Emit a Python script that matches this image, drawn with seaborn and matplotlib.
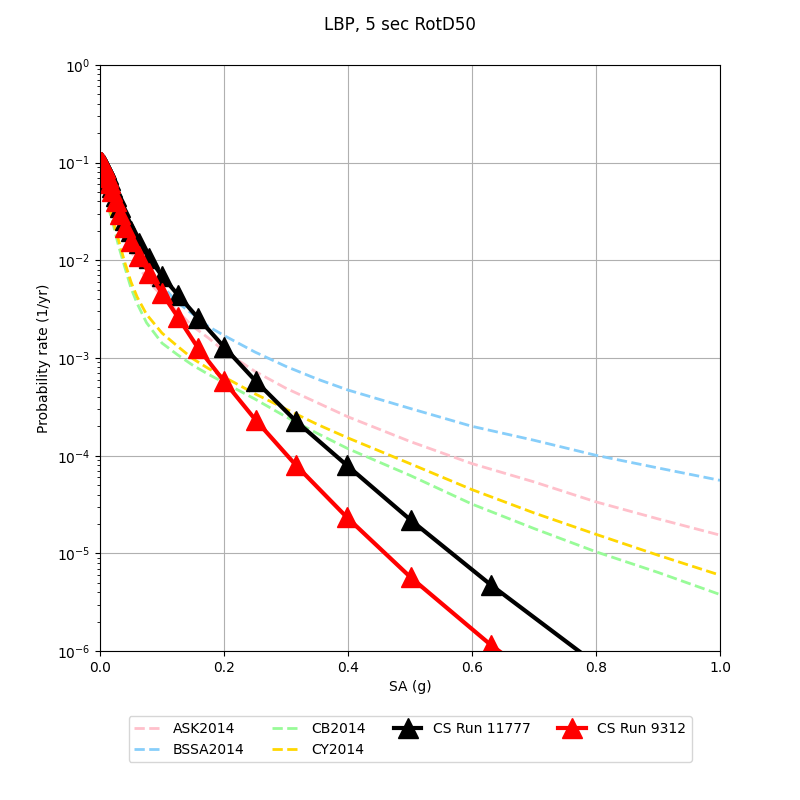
import matplotlib
matplotlib.use("Agg")
import matplotlib.pyplot as plt
import seaborn as sns
import pandas as pd

# ---- data ----
x_gmpe = [0.001, 0.003, 0.006, 0.01, 0.015, 0.02, 0.03, 0.04, 0.05, 0.06, 0.075,
          0.1, 0.125, 0.15, 0.175, 0.2, 0.25, 0.3, 0.35, 0.4, 0.5, 0.6, 0.7, 0.8, 0.9, 1.0]
ask2014 = [0.1, 0.093, 0.08, 0.065, 0.05, 0.04, 0.026, 0.018, 0.0125, 0.0093, 0.0064,
           0.0043, 0.003, 0.0021, 0.0016, 0.00118, 7.3e-4, 4.9e-4, 3.5e-4, 2.5e-4,
           1.4e-4, 8.3e-5, 5.4e-5, 3.37e-5, 2.26e-5, 1.54e-5]
bssa2014 = [0.1, 0.095, 0.085, 0.07, 0.055, 0.045, 0.03, 0.021, 0.015, 0.011, 0.0078,
            0.0055, 0.0037, 0.0028, 0.0021, 0.0017, 0.00115, 8.2e-4, 6.1e-4, 4.7e-4,
            3.05e-4, 2.0e-4, 1.44e-4, 1.01e-4, 7.5e-5, 5.6e-5]
cb2014 = [0.1, 0.09, 0.07, 0.05, 0.032, 0.025, 0.014, 0.0085, 0.0052, 0.0036, 0.0023,
          0.00142, 0.00108, 8.4e-4, 6.8e-4, 5.6e-4, 3.8e-4, 2.5e-4, 1.7e-4, 1.18e-4,
          6.3e-5, 3.2e-5, 1.8e-5, 1.04e-5, 6.4e-6, 3.8e-6]
cy2014 = [0.1, 0.09, 0.072, 0.053, 0.035, 0.027, 0.016, 0.0095, 0.006, 0.0042, 0.0028,
          0.0018, 0.00132, 9.8e-4, 7.8e-4, 6.4e-4, 4.3e-4, 3.0e-4, 2.1e-4, 1.52e-4,
          8.3e-5, 4.5e-5, 2.6e-5, 1.57e-5, 9.6e-6, 6.0e-6]

x_cs = [0.001, 0.00126, 0.00158, 0.002, 0.00251, 0.00316, 0.00398, 0.00501, 0.00631,
        0.00794, 0.01, 0.0126, 0.0158, 0.02, 0.0251, 0.0316, 0.0398, 0.0501, 0.0631,
        0.0794, 0.1, 0.126, 0.158, 0.2, 0.251, 0.316, 0.398, 0.501, 0.631, 0.794, 1.0]
cs_11777 = [0.102, 0.102, 0.101, 0.101, 0.1, 0.1, 0.099, 0.097, 0.094, 0.09, 0.085,
            0.077, 0.067, 0.056, 0.045, 0.035, 0.026, 0.02, 0.015, 0.0106, 0.0069,
            0.0044, 0.00257, 0.0013, 5.82e-4, 2.26e-4, 8.0e-5, 2.2e-5, 4.74e-6, 7.9e-7, 1e-7]
cs_9312 = [0.101, 0.101, 0.1, 0.1, 0.1, 0.099, 0.098, 0.096, 0.092, 0.087, 0.079,
           0.071, 0.062, 0.051, 0.04, 0.03, 0.022, 0.0158, 0.0111, 0.0074, 0.0046,
           0.0026, 0.00127, 5.8e-4, 2.32e-4, 8.0e-5, 2.35e-5, 5.7e-6, 1.15e-6, 2.0e-7, 3e-8]

gmpe_names = ["ASK2014", "BSSA2014", "CB2014", "CY2014"]
gmpe_vals = [ask2014, bssa2014, cb2014, cy2014]
gmpe_colors = ["pink", "lightskyblue", "palegreen", "gold"]

fig = plt.figure(figsize=(8, 8), dpi=100)
ax = fig.add_axes([0.125, 0.186, 0.775, 0.733])

for name, vals, col in zip(gmpe_names, gmpe_vals, gmpe_colors):
    df = pd.DataFrame({"x": x_gmpe, "y": vals})
    sns.lineplot(data=df, x="x", y="y", ax=ax, color=col, linestyle="--",
                 linewidth=2, label=name, estimator=None, sort=False)

for name, vals, col in [("CS Run 11777", cs_11777, "black"), ("CS Run 9312", cs_9312, "red")]:
    df = pd.DataFrame({"x": x_cs, "y": vals})
    sns.lineplot(data=df, x="x", y="y", ax=ax, color=col, linewidth=3, marker="^",
                 markersize=15, markeredgecolor=col, markeredgewidth=1,
                 label=name, estimator=None, sort=False)

ax.set_yscale("log")
ax.set_xlim(0, 1)
ax.set_ylim(1e-6, 1)
ax.grid(True, which="major", color="#b0b0b0", linewidth=0.8)
ax.set_xlabel("SA (g)")
ax.set_ylabel("Probability rate (1/yr)")
fig.suptitle("LBP, 5 sec RotD50")

ax.legend(loc="upper center", bbox_to_anchor=(0.5, -0.099), ncol=4, fontsize=10)

fig.savefig("out.png", dpi=100)
